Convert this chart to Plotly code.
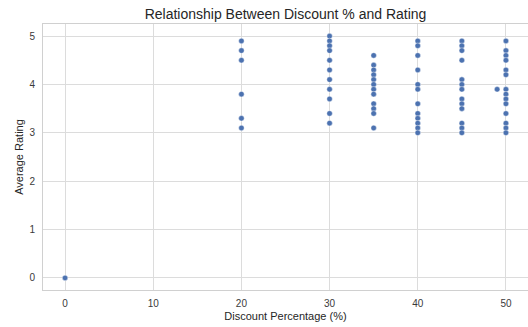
import plotly.graph_objects as go

# Discount percentage -> list of average ratings observed
discount_0 = [0.0]
discount_20 = [4.9, 4.7, 4.5, 3.8, 3.3, 3.1]
discount_30 = [5.0, 4.9, 4.8, 4.7, 4.5, 4.3, 4.1, 3.9, 3.7, 3.4, 3.2]
discount_35 = [4.6, 4.4, 4.3, 4.2, 4.1, 4.0, 3.9, 3.8, 3.6, 3.5, 3.4, 3.1]
discount_40 = [4.9, 4.8, 4.6, 4.3, 4.0, 3.9, 3.6, 3.4, 3.3, 3.2, 3.1, 3.0]
discount_45 = [4.9, 4.8, 4.7, 4.5, 4.1, 4.0, 3.9, 3.7, 3.6, 3.5, 3.2, 3.1, 3.0]
discount_49 = [3.9]
discount_50 = [4.9, 4.7, 4.6, 4.5, 4.3, 4.2, 3.9, 3.8, 3.7, 3.6, 3.4, 3.2, 3.1, 3.0]

groups = [
    (0, discount_0), (20, discount_20), (30, discount_30), (35, discount_35),
    (40, discount_40), (45, discount_45), (49, discount_49), (50, discount_50),
]
xs, ys = [], []
for d, vals in groups:
    xs += [d] * len(vals)
    ys += vals

x_ticks = [0, 10, 20, 30, 40, 50]
y_ticks = [0, 1, 2, 3, 4, 5]

font_family = "Liberation Sans, Arial, sans-serif"

fig = go.Figure(go.Scatter(
    x=xs, y=ys, mode="markers",
    marker=dict(color="#4C72B0", size=5.5, line=dict(color="white", width=0.4)),
))

axis_common = dict(
    showgrid=True, gridcolor="#dcdcdc", gridwidth=1,
    showline=True, linecolor="#d0d0d0", linewidth=1, mirror=True,
    zeroline=False, ticks="", automargin=False,
    tickfont=dict(size=10, color="#3a3a3a", family=font_family),
)

fig.update_layout(
    width=528, height=327,
    margin=dict(l=43, r=0, t=24, b=37),
    paper_bgcolor="white", plot_bgcolor="white",
    showlegend=False,
    font=dict(family=font_family, color="#262626"),
    title=dict(text="Relationship Between Discount % and Rating",
               x=0.5, xanchor="center", xref="paper",
               y=1 - 14 / 327, yref="container", yanchor="middle", automargin=False,
               font=dict(size=14, color="#262626", family=font_family)),
    xaxis=dict(range=[-2.5, 52.5], tickvals=x_ticks, ticklabelstandoff=4,
               title=dict(text="Discount Percentage (%)", standoff=4,
                          font=dict(size=11, color="#262626")),
               **axis_common),
    yaxis=dict(range=[-0.25, 5.25], tickvals=y_ticks, ticklabelstandoff=5,
               title=dict(text="Average Rating", standoff=3,
                          font=dict(size=11, color="#262626")),
               **axis_common),
)

fig.write_html("out.html", config={"displayModeBar": False},
               post_script="document.body.style.margin='0';document.body.style.overflow='hidden';")
